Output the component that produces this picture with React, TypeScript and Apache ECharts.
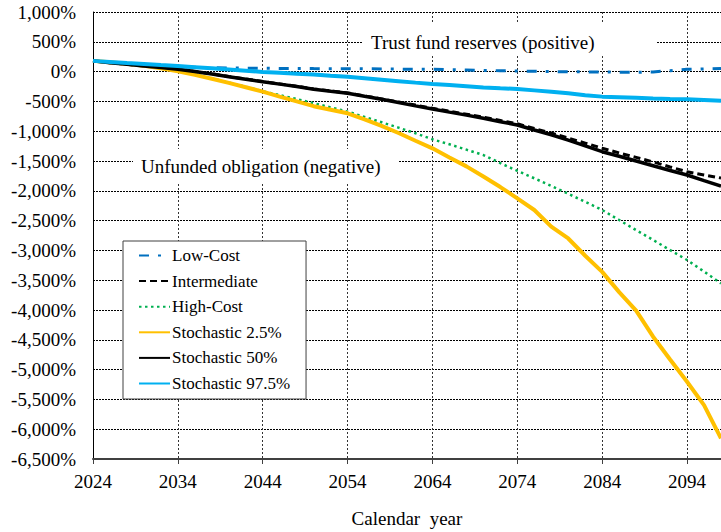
import React, { useEffect, useRef } from "react";
import * as echarts from "echarts";

const years = [
  2024, 2026, 2028, 2030, 2032, 2034, 2036, 2038, 2040, 2042, 2044, 2046, 2048,
  2050, 2052, 2054, 2056, 2058, 2060, 2062, 2064, 2066, 2068, 2070, 2072, 2074,
  2076, 2078, 2080, 2082, 2084, 2086, 2088, 2090, 2092, 2094, 2096, 2098,
];

const lowCost = [
  180, 150, 125, 105, 90, 80, 72, 66, 62, 58, 55, 53, 52, 50, 49, 49, 47, 45, 42,
  40, 38, 33, 27, 20, 15, 10, 5, 0, -3, -5, -7, -10, -12, -5, 15, 38, 45, 52,
];

const intermediate = [
  180, 150, 122, 95, 67, 38, 2, -38, -82, -125, -166, -206, -246, -290, -325,
  -358, -408, -458, -510, -562, -615, -665, -715, -765, -820, -875, -955, -1030,
  -1115, -1200, -1285, -1365, -1440, -1515, -1600, -1680, -1735, -1785,
];

const highCost = [
  180, 158, 132, 98, 55, 8, -50, -115, -185, -255, -330, -395, -460, -530, -600,
  -672, -760, -850, -940, -1035, -1136, -1220, -1310, -1400, -1535, -1665, -1790,
  -1920, -2050, -2185, -2322, -2490, -2660, -2825, -2995, -3161, -3355, -3553,
];

const stoch25 = [
  180, 158, 132, 98, 55, 5, -55, -120, -190, -262, -337, -420, -500, -580, -640,
  -700, -800, -910, -1030, -1160, -1287, -1440, -1590, -1760, -1937, -2126,
  -2322, -2600, -2800, -3090, -3360, -3700, -4010, -4448, -4830, -5204, -5595,
  -6153,
];

const stoch50 = [
  180, 150, 122, 95, 67, 38, 0, -40, -85, -128, -170, -210, -250, -295, -330,
  -364, -415, -465, -520, -575, -628, -680, -730, -784, -840, -896, -980, -1060,
  -1150, -1245, -1344, -1420, -1500, -1580, -1660, -1735, -1830, -1920,
];

const stoch975 = [
  180, 163, 145, 128, 110, 94, 75, 55, 35, 15, -5, -20, -35, -50, -68, -85,
  -110, -135, -160, -185, -208, -225, -245, -265, -280, -292, -315, -340, -365,
  -395, -420, -430, -440, -450, -458, -465, -475, -488,
];

const seriesNames = [
  "Low-Cost",
  "Intermediate",
  "High-Cost",
  "Stochastic 2.5%",
  "Stochastic 50%",
  "Stochastic 97.5%",
];

const FONT = '"Liberation Serif", "Times New Roman", serif';

function pairs(vals: number[]) {
  return years.map((y, i) => [y, vals[i]]);
}

export default function App() {
  const ref = useRef<HTMLDivElement>(null);
  useEffect(() => {
    document.body.style.margin = "0";
    const chart = echarts.init(ref.current!, null, { renderer: "svg" });
    const mk = (name: string, vals: number[], lineStyle: any) => ({
      name,
      type: "line",
      data: pairs(vals),
      symbol: "none",
      showSymbol: false,
      smooth: false,
      lineStyle,
      itemStyle: { color: lineStyle.color },
      emphasis: { disabled: true },
    });
    chart.setOption({
      animation: false,
      backgroundColor: "#ffffff",
      grid: {
        left: 93,
        right: 0,
        top: 12,
        bottom: 73,
        containLabel: false,
        outerBoundsMode: "none",
      },
      xAxis: {
        type: "value",
        min: 2024,
        max: 2098,
        interval: 10,
        name: "Calendar  year",
        nameLocation: "middle",
        nameGap: 50,
        nameTextStyle: { fontFamily: FONT, fontSize: 19, color: "#000" },
        axisLine: { show: true, onZero: false, lineStyle: { color: "#404040", width: 2 } },
        axisTick: { show: true, length: 5, lineStyle: { color: "#404040", width: 1 } },
        axisLabel: {
          fontFamily: FONT,
          fontSize: 19,
          color: "#000",
          margin: 13,
          showMaxLabel: false,
          formatter: (v: number) => String(v),
        },
        splitLine: { show: true, lineStyle: { color: "#333", type: [2, 2], width: 1 } },
      },
      yAxis: {
        type: "value",
        min: -6500,
        max: 1000,
        interval: 500,
        axisLine: { show: true, onZero: false, lineStyle: { color: "#000", width: 1 } },
        axisTick: { show: false },
        axisLabel: {
          fontFamily: FONT,
          fontSize: 19,
          color: "#000",
          margin: 17,
          formatter: (v: number) => v.toLocaleString("en-US") + "%",
        },
        splitLine: { show: true, lineStyle: { color: "#000", type: [2, 1], width: 1 } },
      },
      legend: {
        show: true,
        orient: "vertical",
        left: 123,
        top: 241,
        padding: [6, 16, 7, 15],
        itemWidth: 31,
        itemHeight: 14,
        itemGap: 8.6,
        backgroundColor: "#fff",
        borderColor: "#404040",
        borderWidth: 1,
        data: seriesNames,
        itemStyle: { color: "transparent", borderWidth: 0, opacity: 0 },
        textStyle: { fontFamily: FONT, fontSize: 17, color: "#000", padding: [0, 0, 0, -3] },
      },
      graphic: [
        {
          type: "rect",
          z: 5,
          shape: { x: 363, y: 24, width: 293, height: 32 },
          style: { fill: "#fff" },
        },
        {
          type: "text",
          z: 6,
          x: 371,
          y: 42,
          style: {
            text: "Trust fund reserves (positive)",
            font: `19px ${FONT}`,
            fill: "#000",
            verticalAlign: "middle",
          },
        },
        {
          type: "rect",
          z: 5,
          shape: { x: 133, y: 149, width: 265, height: 34 },
          style: { fill: "#fff" },
        },
        {
          type: "text",
          z: 6,
          x: 141,
          y: 166,
          style: {
            text: "Unfunded obligation (negative)",
            font: `19px ${FONT}`,
            fill: "#000",
            verticalAlign: "middle",
          },
        },
      ],
      series: [
        mk(seriesNames[0], lowCost, { color: "#0070C0", width: 3, type: [10, 9, 3, 9] }),
        mk(seriesNames[1], intermediate, { color: "#000", width: 3, type: [7, 4] }),
        mk(seriesNames[2], highCost, { color: "#00B050", width: 2.5, type: [2.5, 3.5] }),
        mk(seriesNames[3], stoch25, { color: "#FFC000", width: 4, type: "solid" }),
        mk(seriesNames[4], stoch50, { color: "#000", width: 3.5, type: "solid" }),
        mk(seriesNames[5], stoch975, { color: "#00B0F0", width: 4, type: "solid" }),
      ],
    });
    return () => chart.dispose();
  }, []);
  return <div ref={ref} style={{ width: 721, height: 532, background: "#fff" }} />;
}
